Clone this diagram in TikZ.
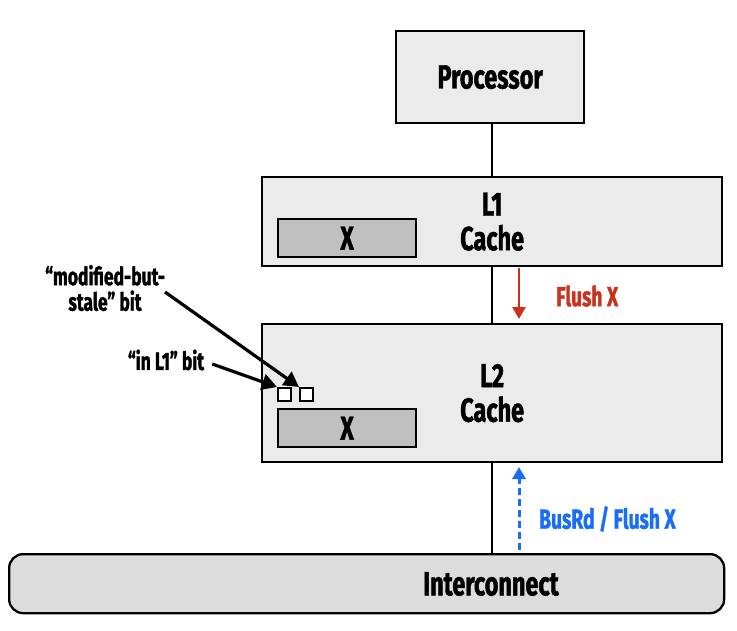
\documentclass[tikz,border=0pt]{standalone}
\usepackage{fontspec}
\setmainfont{Fira Sans}[FakeStretch=0.70, BoldFeatures={FakeBold=1.3}]
\usetikzlibrary{arrows.meta}
\definecolor{boxfill}{HTML}{EBEBEB}
\definecolor{xfill}{HTML}{C0C0C0}
\definecolor{icfill}{HTML}{DCDCDC}
\definecolor{flushred}{HTML}{C8321E}
\definecolor{busblue}{HTML}{1A6EF5}
\tikzset{
  unitbox/.style={draw=black, line width=2.3pt, fill=boxfill, anchor=north west, inner sep=0pt, font=\fontsize{33.5}{34.5}\selectfont\bfseries, align=center},
  xbox/.style={draw=black, line width=2.3pt, fill=xfill, anchor=north west, inner sep=0pt, font=\fontsize{33}{34}\selectfont\bfseries},
  bitbox/.style={draw=black, line width=1.8pt, fill=white, anchor=north west, inner sep=0pt, minimum width=13pt, minimum height=13pt},
  wire/.style={draw=black, line width=2pt},
  pointer/.style={draw=black, line width=3.2pt, -{Triangle[length=15pt,width=16pt]}},
  note/.style={font=\fontsize{25}{25.5}\selectfont\bfseries, align=center, inner sep=0pt},
  msg/.style={font=\fontsize{27.5}{29}\selectfont\bfseries, inner sep=0pt, anchor=west},
}
\begin{document}
\begin{tikzpicture}[x=1pt,y=-1pt]
\useasboundingbox (0,0) rectangle (737,630);
% boxes
\node[unitbox, minimum width=188pt, minimum height=92pt] (proc) at (395,30) {Processor};
\node[unitbox, minimum width=460pt, minimum height=89pt] (l1) at (261,176) {L1\\Cache};
\node[unitbox, minimum width=460pt, minimum height=138pt] (l2) at (261,323) {L2\\Cache};
\node[draw=black, line width=2.3pt, fill=icfill, rounded corners=14pt, anchor=north west, minimum width=715pt, minimum height=59pt, inner sep=0pt] (ic) at (8,553) {};
\node[font=\fontsize{33.5}{35}\selectfont\bfseries, inner sep=0pt] (ictext) at (491,584) {Interconnect};
\node[xbox, minimum width=138pt, minimum height=38pt] (x1) at (277,218) {X};
\node[xbox, minimum width=138pt, minimum height=38pt] (x2) at (277,408) {X};
\node[bitbox] (inl1) at (277,387) {};
\node[bitbox] (mbs) at (299,387) {};
% wires
\draw[wire] (l1.north |- proc.south) -- (l1.north);
\draw[wire] (l1.south) -- (l2.north);
\draw[wire] (l2.south) -- (l2.south |- ic.north);
% messages
\coordinate (fa) at (519,268);
\coordinate (fb) at (519,319);
\draw[flushred, line width=2.8pt, -{Triangle[length=12pt,width=13pt]}] (fa) -- (fb);
\node[msg, text=flushred] (flushlbl) at (556,296) {Flush X};
\coordinate (ba) at (519,550);
\coordinate (bb) at (519,467);
\draw[busblue, line width=3pt, dash pattern=on 7pt off 4pt, -{Triangle[length=12pt,width=13pt]}] (ba) -- (bb);
\node[msg, text=busblue] (buslbl) at (539,519) {BusRd / Flush X};
% notes
\node[note] (mbsnote) at (105,288) {“modified-but-\\stale” bit};
\node[note] (inl1note) at (166,360) {“in L1” bit};
\draw[pointer] (165,292) -- (mbs.north west);
\draw[pointer] (inl1note.east) ++(8,4) -- (inl1.north west);
\end{tikzpicture}
\end{document}
